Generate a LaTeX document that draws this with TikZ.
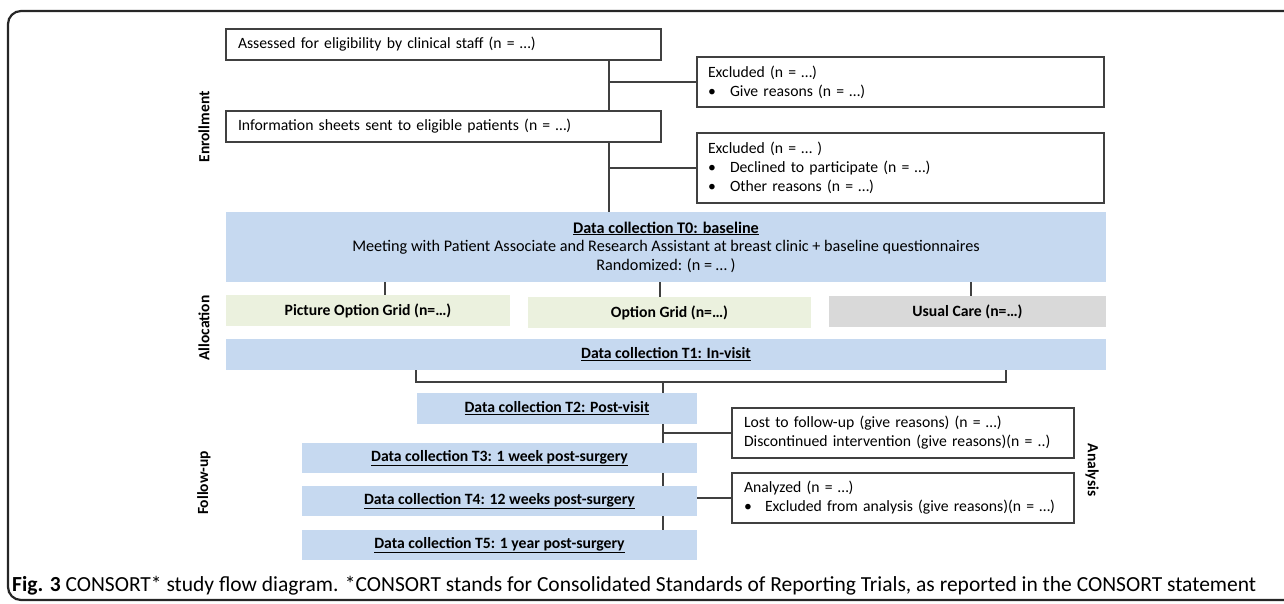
\documentclass[tikz,border=0pt]{standalone}
\usepackage{fontspec}
\setmainfont{Carlito}
\definecolor{tblue}{HTML}{C6D9F0}
\definecolor{tgreen}{HTML}{EBF1DE}
\definecolor{tgray}{HTML}{D9D9D9}
\definecolor{lc}{HTML}{404040}
\newcommand\fsz{\fontsize{15.7}{19}\selectfont}
\newcommand\bul[1]{\makebox[#1][l]{•}}
\begin{document}
\begin{tikzpicture}[x=1pt,y=-1pt,
  wbox/.style={draw=lc, line width=1.3pt, fill=white, inner xsep=12pt, inner ysep=0pt, align=left, font=\fsz},
  tbox/.style={fill=tblue, inner sep=0pt, align=center, font=\fsz},
  abox/.style={inner sep=0pt, align=center, font=\fsz\bfseries},
  conn/.style={draw=lc, line width=1.3pt},
  side/.style={font=\fontsize{15.5}{19}\selectfont\bfseries, inner sep=0pt}]
\useasboundingbox (0,0) rectangle (1284,603);
\begin{scope}
\clip (0,0) rectangle (1284,603);
\draw[line width=2.2pt, draw=black!85, rounded corners=13pt] (8,11) rectangle (1320,600);
\end{scope}

% enrollment
\node[wbox, text width=411pt, minimum height=31pt] (box1) at (443.5,44.5) {Assessed for eligibility by clinical staff (n = …)};
\node[wbox, inner xsep=11pt, text width=385pt, minimum height=50pt] (excl1) at (900.5,82) {Excluded (n = …)\\\bul{22pt}Give reasons (n = …)};
\node[wbox, text width=411pt, minimum height=31pt] (box2) at (443.5,126.5) {Information sheets sent to eligible patients (n = …)};
\node[wbox, inner xsep=11pt, text width=385pt, minimum height=70pt] (excl2) at (900.5,168) {Excluded (n = … )\\\bul{22pt}Declined to participate (n = …)\\\bul{22pt}Other reasons (n = …)};

\node[tbox, minimum width=880pt, minimum height=70pt, font=\fontsize{16.2}{18.5}\selectfont] (t0) at (666,247) {\textbf{\underline{Data collection T0: baseline}}\\Meeting with Patient Associate and Research Assistant at breast clinic + baseline questionnaires\\Randomized: (n = … )};

\coordinate (sp1) at (609,0);
\draw[conn] (box1.south -| sp1) -- (box2.north -| sp1);
\draw[conn] (box2.south -| sp1) -- (t0.north -| sp1);
\draw[conn] (sp1 |- excl1.west) -- (excl1.west);
\draw[conn] (sp1 |- excl2.west) -- (excl2.west);

% allocation
\node[abox, fill=tgreen, minimum width=284pt, minimum height=31pt] (pic) at (368,310.5) {Picture Option Grid (n=…)};
\node[abox, fill=tgreen, minimum width=283pt, minimum height=31pt] (opt) at (669.5,312.5) {Option Grid (n=…)};
\node[abox, fill=tgray, minimum width=277pt, minimum height=31pt] (usual) at (967.5,311.5) {Usual Care (n=…)};
\draw[conn] ([xshift=17pt]pic.north) -- ([xshift=17pt]pic.north |- t0.south);
\draw[conn] ([xshift=-9.5pt]opt.north) -- ([xshift=-9.5pt]opt.north |- t0.south);
\draw[conn] ([xshift=3.5pt]usual.north) -- ([xshift=3.5pt]usual.north |- t0.south);

\node[tbox, minimum width=880pt, minimum height=31pt] (t1) at (666,354.5) {\textbf{\underline{Data collection T1: In-visit}}};

% follow-up
\node[tbox, minimum width=280pt, minimum height=31pt] (t2) at (557,408.5) {\textbf{\underline{Data collection T2: Post-visit}}};
\node[tbox, minimum width=395pt, minimum height=30pt] (t3) at (499.5,458) {\textbf{\underline{Data collection T3: 1 week post-surgery}}};
\node[tbox, minimum width=395pt, minimum height=30pt] (t4) at (499.5,501) {\textbf{\underline{Data collection T4: 12 weeks post-surgery}}};
\node[tbox, minimum width=395pt, minimum height=30pt] (t5) at (499.5,545) {\textbf{\underline{Data collection T5: 1 year post-surgery}}};
\node[wbox, text width=318pt, minimum height=50pt] (lost) at (903,433) {Lost to follow-up (give reasons) (n = …)\\Discontinued intervention (give reasons)(n = ..)};
\node[wbox, text width=318pt, minimum height=50pt] (an) at (903,498) {Analyzed (n = …)\\\bul{21pt}Excluded from analysis (give reasons)(n = …)};

\coordinate (bl) at (416,382);
\coordinate (br) at (1006,382);
\coordinate (sp2) at (663,382);
\draw[conn] (t1.south -| bl) -- (bl) -- (br) -- (t1.south -| br);
\draw[conn] (sp2) -- (t2.north -| sp2);
\draw[conn] (t2.south -| sp2) -- (t3.north -| sp2);
\draw[conn] (t3.south -| sp2) -- (t4.north -| sp2);
\draw[conn] (t4.south -| sp2) -- (t5.north -| sp2);
\draw[conn] (sp2 |- lost.west) -- (lost.west);
\draw[conn] (t4.east |- an.west) -- (an.west);

% side labels
\node[side, rotate=90] (lenr) at (204,127) {Enrollment};
\node[side, rotate=90] (lall) at (204,328) {Allocation};
\node[side, rotate=90] (lfol) at (204,483) {Follow-up};
\node[side, rotate=-90] (lana) at (1092,470) {Analysis};

% caption
\node[anchor=west, inner sep=0pt, font=\fontsize{21.5}{25}\selectfont] (cap) at (12,586) {\textbf{Fig. 3} CONSORT* study flow diagram. *CONSORT stands for Consolidated Standards of Reporting Trials, as reported in the CONSORT statement};
\end{tikzpicture}
\end{document}
